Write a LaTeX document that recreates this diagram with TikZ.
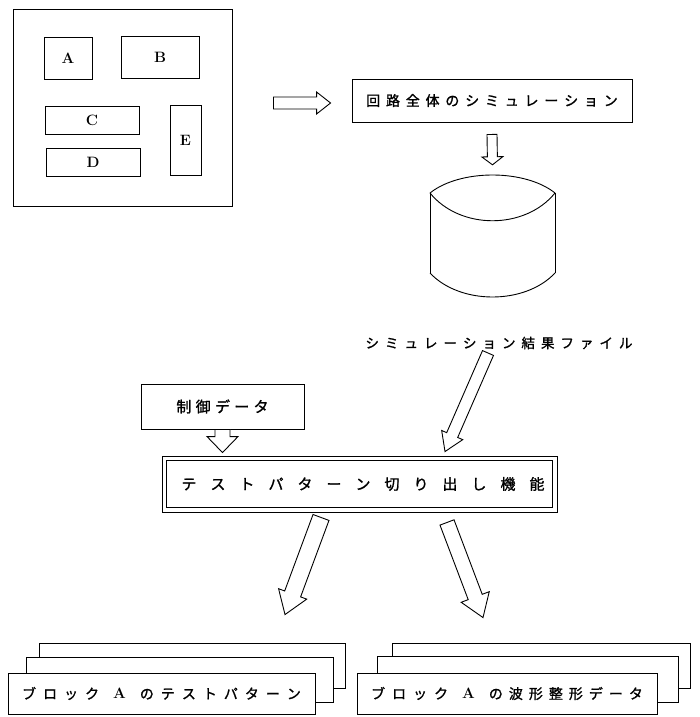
\documentclass[tikz,border=0pt]{standalone}
\usepackage{fontspec}
\newfontfamily\jp[FakeBold=1.2]{Noto Sans CJK JP}
\usetikzlibrary{calc}
\makeatletter
\newcommand\spaced[2]{\begingroup\let\sp@sep\relax\@tfor\sp@c:=#2\do{\sp@sep\sp@c\def\sp@sep{\hspace{#1}}}\endgroup}
\makeatother
\newcommand\fatarrow[5]{%
  \coordinate (fah) at ($(#2)!#5!(#1)$);
  \draw[fat] ($(#1)!#3!90:(#2)$) -- ($(fah)!#3!-90:(#1)$) -- ($(fah)!#4!-90:(#1)$) -- (#2)
    -- ($(fah)!#4!90:(#1)$) -- ($(fah)!#3!90:(#1)$) -- ($(#1)!#3!-90:(#2)$) -- cycle;}
\newcommand\latA{{\normalfont\bfseries\fontsize{15pt}{15pt}\selectfont A}}
\tikzset{
  box/.style={draw, line width=0.9pt, inner sep=0pt, fill=white},
  fat/.style={draw, line width=0.9pt, line join=miter, fill=white},
  lat/.style={font=\bfseries\fontsize{15pt}{15pt}\selectfont},
}
\begin{document}
\begin{tikzpicture}[x=1pt,y=1pt]
\useasboundingbox (0,0) rectangle (699,-717);
\fill[white] (0,0) rectangle (699,-717);

% chip layout
\node[box, minimum width=219pt, minimum height=197pt] (chip) at (122.5,-107.5) {};
\node[box, lat, minimum width=48pt, minimum height=42pt] (ba) at (68,-58) {A};
\node[box, lat, minimum width=78pt, minimum height=42pt] (bb) at (160,-57) {B};
\node[box, lat, minimum width=94pt, minimum height=28pt] (bc) at (92,-120) {C};
\node[box, lat, minimum width=94pt, minimum height=28pt] (bd) at (93,-162) {D};
\node[box, lat, minimum width=31pt, minimum height=70pt] (be) at (185.5,-140) {E};

% simulation box
\node[box, minimum width=280pt, minimum height=43pt] (sim) at (492,-100.5)
  {\jp\fontsize{14pt}{16pt}\selectfont\spaced{5.8pt}{回路全体のシミュレーション}};

\coordinate (r1) at ($(chip.east)+(41,4.5)$);
\coordinate (r2) at ($(sim.west)+(-21,-2.5)$);
\fatarrow{r1}{r2}{6pt}{11pt}{14pt}

% database
\node[minimum width=125pt, minimum height=122pt, inner sep=0pt] (db) at (492.5,-236) {};
\begin{scope}[shift={(db.center)}, line width=0.9pt]
  \draw (-62.5,43) .. controls (-32.5,67) and (32.5,67) .. (62.5,43);
  \draw (-62.5,43) .. controls (-32.5,6) and (32.5,6) .. (62.5,43);
  \draw (-62.5,43) -- (-62.5,-37);
  \draw (62.5,43) -- (62.5,-37);
  \draw (-62.5,-37) .. controls (-32.5,-69) and (32.5,-69) .. (62.5,-37);
\end{scope}

\coordinate (d1) at ($(sim.south)+(0,-12)$);
\coordinate (d2) at ($(db.north)+(0,10)$);
\fatarrow{d1}{d2}{5pt}{10.5pt}{8pt}

% result file label
\node[inner sep=0pt] (lbl) at (499,-343)
  {\jp\fontsize{13.5pt}{15pt}\selectfont\spaced{6pt}{シミュレーション結果ファイル}};

% control data
\node[box, minimum width=163pt, minimum height=45pt] (ctl) at (222.5,-406.5)
  {\jp\fontsize{15pt}{17pt}\selectfont\spaced{4.3pt}{制御データ}};

% main box
\node[box, minimum width=395pt, minimum height=56pt] (main) at (359.5,-484)
  {\hspace{7pt}\jp\fontsize{15pt}{17pt}\selectfont\spaced{14pt}{テストパターン切り出し機能}};
\draw[line width=0.9pt] ($(main.south west)+(5,5)$) rectangle ($(main.north east)+(-5,-5)$);

\coordinate (c1) at (ctl.south);
\coordinate (c2) at ($(ctl.south |- main.north)+(0,3)$);
\fatarrow{c1}{c2}{7.5pt}{15.5pt}{16pt}

\coordinate (q1) at ($(lbl.center)+(-11,-10)$);
\coordinate (q2) at ($(main.north)+(85.5,4)$);
\fatarrow{q1}{q2}{6pt}{11.5pt}{18pt}

% bottom stacks
\node[box, minimum width=306pt, minimum height=45pt] (lback) at (192,-665.5) {};
\node[box, minimum width=307pt, minimum height=45pt] (lmid) at (179.5,-679.5) {};
\node[box, minimum width=307pt, minimum height=41pt] (lfront) at (161.5,-693.5)
  {\raisebox{-4pt}{\jp\fontsize{14pt}{16pt}\selectfont\spaced{7pt}{ブロック}\hspace{14pt}\latA\hspace{14pt}\spaced{7pt}{のテストパターン}}};

\node[box, minimum width=298pt, minimum height=45pt] (rback) at (541,-665.5) {};
\node[box, minimum width=301pt, minimum height=46pt] (rmid) at (527.5,-679) {};
\node[box, minimum width=300pt, minimum height=41pt] (rfront) at (507,-693.5)
  {\raisebox{-4pt}{\jp\fontsize{14pt}{16pt}\selectfont\spaced{7pt}{ブロック}\hspace{14pt}\latA\hspace{14pt}\spaced{6pt}{の波形整形データ}}};

\coordinate (l1) at ($(main.south)+(-38.5,-5)$);
\coordinate (l2) at ($(lback.north)+(93,28)$);
\fatarrow{l1}{l2}{8.5pt}{15pt}{22pt}

\coordinate (m1) at ($(main.south)+(87.5,-10)$);
\coordinate (m2) at ($(rback.north)+(-58,25)$);
\fatarrow{m1}{m2}{7.5pt}{15pt}{22pt}
\end{tikzpicture}
\end{document}
